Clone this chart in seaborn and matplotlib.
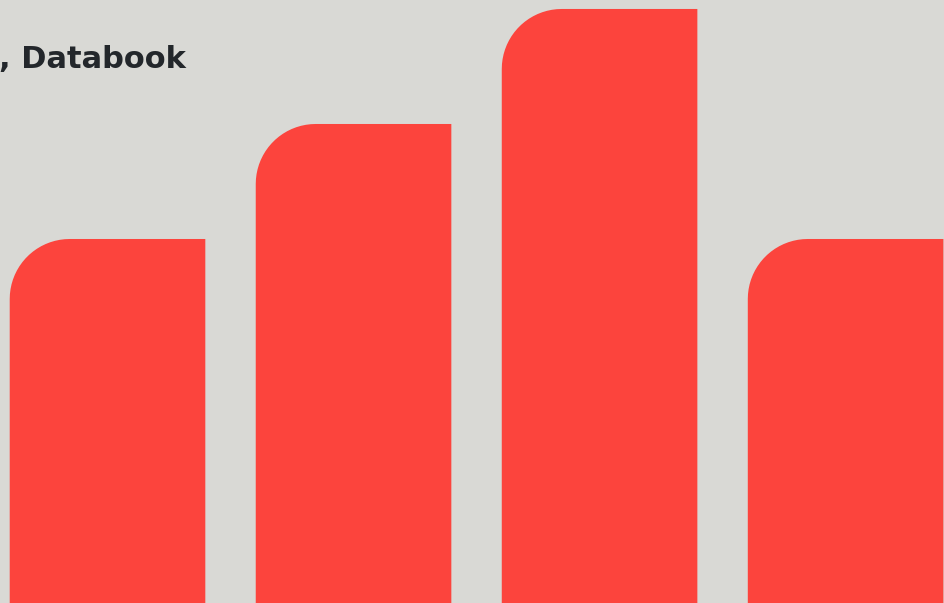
import numpy as np
import pandas as pd
import matplotlib
matplotlib.use("Agg")
import matplotlib.pyplot as plt
import matplotlib.transforms as mtransforms
from matplotlib.path import Path
from matplotlib.patches import PathPatch
import seaborn as sns

# data (only the visible crop of the original chart)
categories = ["A", "B", "C", "D"]
values = [4, 5, 6, 4]
caption = "), Databook"

bg = "#D9D9D5"
bar_color = "#FC443D"
text_color = "#23272B"

sns.set_theme(style="white")
plt.rcParams["font.family"] = ["DejaVu Sans"]

df = pd.DataFrame({"category": categories, "value": values})

fig = plt.figure(figsize=(9.44, 6.03), dpi=100, facecolor=bg)
ax = fig.add_axes([0, 0, 1, 1], facecolor=bg)
sns.barplot(data=df, x="category", y="value", color=bar_color,
            saturation=1, width=0.795, ax=ax)
ax.set_xlim(-0.437, 3.40)
ax.set_ylim(0.835, 6.078)
ax.axis("off")

# replace the square bars with bars rounded on the top-left corner
radius = 60
theta = np.linspace(np.pi, np.pi / 2, 20)
for p in list(ax.patches):
    (x0, y0), (x1, y1) = ax.transData.transform(
        [(p.get_x(), p.get_y()), (p.get_x() + p.get_width(), p.get_y() + p.get_height())])
    arc = np.column_stack([x0 + radius + radius * np.cos(theta),
                           y1 - radius + radius * np.sin(theta)])
    verts = np.vstack([[x0, y0], arc, [x1, y1], [x1, y0], [x0, y0]])
    codes = [Path.MOVETO] + [Path.LINETO] * (len(verts) - 2) + [Path.CLOSEPOLY]
    rounded = PathPatch(Path(verts, codes), facecolor=bar_color, edgecolor="none",
                        transform=mtransforms.IdentityTransform())
    rounded.set_clip_path(ax.patch)
    p.remove()
    ax.add_artist(rounded)

# caption is cropped at the left edge, as in the reference
fig.text(186 / 944, 1 - 68 / 603, caption, ha="right", va="baseline",
         fontsize=22, fontweight="bold", color=text_color)

fig.savefig("out.png", dpi=100, facecolor=bg)
